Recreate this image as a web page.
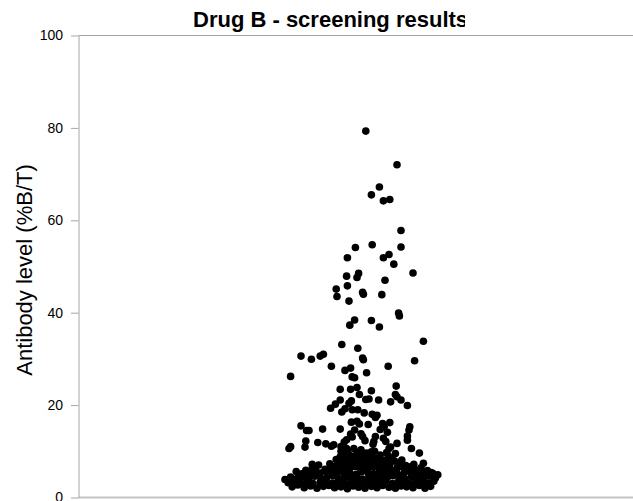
<!DOCTYPE html>
<html>
<head>
<meta charset="utf-8">
<script src="https://cdn.jsdelivr.net/npm/d3@7"></script>
<style>
  body { margin: 0; background: #fff; }
  svg { display: block; font-family: "Liberation Sans", Arial, Helvetica, sans-serif; }
</style>
</head>
<body>
<div class="chart"></div>
<script>
const title = "Drug B - screening results";
const yLabel = "Antibody level (%B/T)";
const yTicks = [0, 20, 40, 60, 80, 100];

// each point: [horizontal jitter (-1..1), antibody level %B/T]
const highResponders = [
  [0.01, 79.2], [0.40, 71.9], [0.18, 67.1], [0.08, 65.4], [0.23, 64.1], [0.31, 64.4],
  [0.45, 57.7], [0.45, 54.1], [0.09, 54.6], [-0.12, 54.0], [-0.22, 51.8], [0.23, 51.8],
  [0.30, 52.5], [0.36, 50.4], [0.60, 48.5], [-0.23, 47.8], [-0.08, 48.4], [-0.10, 47.5],
  [0.25, 46.9], [-0.36, 45.0], [-0.22, 45.7], [-0.35, 43.4], [-0.03, 44.3], [-0.02, 43.9],
  [0.21, 43.8], [-0.20, 42.4], [0.42, 39.8], [0.43, 39.2], [-0.13, 38.3], [0.08, 38.2],
  [-0.19, 37.2], [0.18, 36.8], [0.73, 33.7], [-0.29, 33.0], [-0.09, 32.2]
];

const midResponders = [
  [-0.80, 30.5], [-0.67, 29.8], [-0.56, 30.5], [-0.52, 30.9], [-0.03, 30.1], [-0.02, 29.7],
  [0.62, 29.5], [-0.42, 28.3], [0.29, 28.3], [-0.25, 27.4], [-0.18, 27.9], [0.02, 26.9],
  [-0.93, 26.1], [-0.16, 26.0], [-0.13, 25.8], [-0.31, 23.3], [-0.18, 23.3], [-0.10, 23.7],
  [0.08, 23.0], [0.39, 24.0], [0.38, 22.2], [0.40, 21.7], [0.32, 20.6], [0.45, 21.0],
  [0.53, 19.8], [0.05, 21.2], [0.01, 21.1], [0.17, 21.0], [-0.07, 22.2], [-0.20, 20.3],
  [-0.17, 20.8], [-0.31, 21.0], [-0.37, 20.1], [-0.43, 19.2], [-0.25, 19.1], [-0.29, 18.4],
  [-0.16, 18.9], [-0.09, 18.9], [-0.01, 18.2], [0.09, 17.9], [0.13, 17.2], [0.15, 17.7],
  [-0.10, 16.4], [-0.07, 15.8], [-0.17, 16.2], [0.04, 15.7], [0.22, 15.9], [0.24, 15.2],
  [0.31, 16.1], [0.19, 14.6], [0.28, 14.0], [0.56, 15.2], [0.55, 14.5], [-0.80, 15.4],
  [-0.73, 14.4], [-0.70, 14.4], [-0.53, 14.7], [-0.31, 14.7], [-0.13, 14.5], [-0.18, 13.6],
  [-0.05, 13.7], [0.53, 13.2], [-0.74, 12.1], [-0.59, 11.8], [-0.95, 10.5], [-0.93, 10.9],
  [-0.75, 10.8], [-0.39, 11.3], [-0.26, 11.9], [-0.23, 12.4], [-0.16, 13.0], [-0.03, 13.1],
  [0.00, 12.2], [0.13, 13.1], [0.11, 12.0], [0.10, 11.4], [0.23, 12.7], [0.26, 12.0],
  [0.40, 11.6], [0.53, 12.3], [0.58, 10.5], [0.30, 10.5], [0.32, 10.8], [0.68, 9.5],
  [-0.23, 10.5], [-0.14, 10.5], [-0.30, 10.9], [-0.31, 8.7], [-0.49, 11.5], [-0.42, 11.0]
];

const lowResponders = [
  // ~8-10
  [-0.28, 9.3], [-0.19, 9.0], [-0.10, 9.6], [-0.01, 9.2], [0.08, 9.8], [0.19, 9.1], [0.38, 9.4],
  [-0.30, 9.9], [-0.22, 10.0], [-0.05, 10.2], [0.02, 9.5], [0.12, 9.9], [0.27, 9.6],
  [-0.36, 8.1], [-0.26, 8.4], [-0.19, 7.9], [-0.11, 8.3], [-0.04, 8.0], [0.04, 8.5],
  [0.14, 8.2], [0.24, 7.9], [0.34, 8.3], [0.46, 8.0],
  [-0.15, 8.7], [-0.07, 8.9], [0.00, 8.6], [0.09, 8.8], [0.18, 8.6], [0.29, 8.9],
  // ~7
  [-0.66, 7.1], [-0.44, 7.2], [-0.34, 6.9], [-0.25, 7.4], [-0.18, 7.0], [-0.10, 7.6],
  [-0.03, 7.1], [0.05, 7.3], [0.13, 6.9], [0.21, 7.5], [0.31, 7.0], [0.41, 7.2],
  [0.51, 6.8], [0.61, 7.1], [0.73, 7.3],
  [-0.32, 7.6], [-0.22, 7.8], [-0.14, 7.4], [-0.06, 7.7], [0.01, 7.9], [0.09, 7.5],
  [0.17, 7.8], [0.27, 7.6], [0.37, 7.8],
  // ~6
  [-0.74, 5.8], [-0.66, 6.2], [-0.58, 6.9], [-0.50, 6.0], [-0.43, 6.3], [-0.35, 5.9],
  [-0.28, 6.4], [-0.20, 6.1], [-0.13, 6.6], [-0.05, 5.9], [0.03, 6.2], [0.10, 6.5],
  [0.18, 6.0], [0.25, 6.3], [0.33, 5.8], [0.40, 6.2], [0.48, 6.4], [0.55, 6.0],
  [0.63, 5.9], [0.70, 6.3], [0.78, 5.7],
  [-0.40, 6.6], [-0.30, 6.9], [-0.17, 6.8], [-0.08, 6.5], [0.07, 6.7], [0.15, 6.8],
  [0.22, 6.9], [0.45, 6.7], [0.58, 6.6], [-0.62, 5.9],
  // ~5
  [-0.86, 5.5], [-0.79, 5.0], [-0.71, 5.3], [-0.64, 4.9], [-0.56, 5.2], [-0.49, 5.6],
  [-0.41, 5.0], [-0.34, 5.4], [-0.26, 5.1], [-0.19, 5.3], [-0.11, 4.9], [-0.04, 5.5],
  [0.04, 5.2], [0.11, 5.0], [0.19, 5.4], [0.26, 5.1], [0.34, 5.3], [0.41, 4.9],
  [0.49, 5.2], [0.56, 5.6], [0.64, 5.0], [0.71, 5.3], [0.79, 4.9], [0.85, 5.1], [0.83, 5.3],
  // ~4
  [-1.00, 3.8], [-0.93, 4.3], [-0.85, 4.0], [-0.78, 4.4], [-0.70, 4.1], [-0.63, 4.5],
  [-0.55, 3.9], [-0.48, 4.2], [-0.40, 4.6], [-0.33, 4.0], [-0.25, 4.3], [-0.18, 4.1],
  [-0.10, 4.5], [-0.03, 3.9], [0.05, 4.2], [0.13, 4.4], [0.20, 4.0], [0.28, 4.3],
  [0.35, 4.6], [0.43, 4.1], [0.50, 3.9], [0.58, 4.4], [0.65, 4.2], [0.73, 4.0],
  [0.80, 4.5], [0.88, 4.1], [0.91, 4.8],
  // ~3
  [-0.96, 3.1], [-0.88, 3.4], [-0.80, 3.0], [-0.72, 3.3], [-0.65, 2.9], [-0.56, 3.2],
  [-0.49, 3.5], [-0.41, 3.0], [-0.34, 3.3], [-0.26, 3.1], [-0.19, 2.9], [-0.11, 3.4],
  [-0.04, 3.2], [0.04, 3.0], [0.11, 3.3], [0.19, 3.1], [0.26, 3.5], [0.34, 2.9],
  [0.41, 3.2], [0.49, 3.4], [0.56, 3.0], [0.64, 3.3], [0.71, 3.1], [0.79, 2.9], [0.86, 3.4],
  // ~2
  [-0.91, 2.2], [-0.84, 2.6], [-0.76, 2.0], [-0.68, 2.4], [-0.60, 1.9], [-0.52, 2.3],
  [-0.45, 2.5], [-0.38, 2.0], [-0.30, 2.2], [-0.22, 1.8], [-0.15, 2.4], [-0.08, 2.1],
  [0.00, 1.9], [0.08, 2.3], [0.15, 2.0], [0.22, 2.5], [0.30, 2.1], [0.38, 1.9],
  [0.45, 2.4], [0.52, 2.2], [0.60, 2.0], [0.68, 2.5], [0.75, 1.9], [0.82, 2.3]
];

const allPoints = highResponders.concat(midResponders, lowResponders);

const width = 633;
const height = 501;
const margin = { top: 35, right: 0, bottom: 4, left: 78.5 };

const svg = d3
  .select(".chart")
  .append("svg")
  .attr("width", width)
  .attr("height", height);

const yScale = d3
  .scaleLinear()
  .domain([0, 100])
  .range([height - margin.bottom, margin.top]);

const xScale = d3
  .scaleLinear()
  .domain([-1, 1])
  .range([285, 445]);

// frame lines at top and bottom of plot
svg
  .append("line")
  .attr("x1", margin.left)
  .attr("x2", width)
  .attr("y1", yScale(100) + 0.5)
  .attr("y2", yScale(100) + 0.5)
  .attr("stroke", "#a6a6a6");
svg
  .append("line")
  .attr("x1", margin.left)
  .attr("x2", width)
  .attr("y1", yScale(0) + 0.5)
  .attr("y2", yScale(0) + 0.5)
  .attr("stroke", "#c4c4c4")
  .attr("stroke-width", 2);

const yAxis = d3
  .axisLeft(yScale)
  .tickValues(yTicks)
  .tickSize(7.5)
  .tickSizeOuter(0)
  .tickPadding(8);

const yAxisG = svg
  .append("g")
  .attr("transform", `translate(${margin.left}, 0.5)`)
  .call(yAxis);
yAxisG.selectAll("path, line").attr("stroke", "#a6a6a6");
yAxisG
  .selectAll("text")
  .attr("fill", "#000")
  .style("font-size", "14px")
  .style("font-family", '"Liberation Sans", Arial, sans-serif');

svg
  .append("text")
  .attr("transform", `translate(32, 270) rotate(-90)`)
  .attr("text-anchor", "middle")
  .style("font-size", "22px")
  .attr("fill", "#000")
  .text(yLabel);

// title is cut off on the right in the original
svg
  .append("clipPath")
  .attr("id", "title-clip")
  .append("rect")
  .attr("x", 0)
  .attr("y", 0)
  .attr("width", 465)
  .attr("height", 34);

svg
  .append("text")
  .attr("clip-path", "url(#title-clip)")
  .attr("x", 193)
  .attr("y", 27)
  .style("font-size", "22px")
  .style("font-weight", "bold")
  .attr("fill", "#000")
  .text(title);

svg
  .append("g")
  .selectAll("circle")
  .data(allPoints)
  .enter()
  .append("circle")
  .attr("cx", d => xScale(d[0]))
  .attr("cy", d => yScale(d[1]))
  .attr("r", 3.8)
  .attr("fill", "#000");
</script>
</body>
</html>
